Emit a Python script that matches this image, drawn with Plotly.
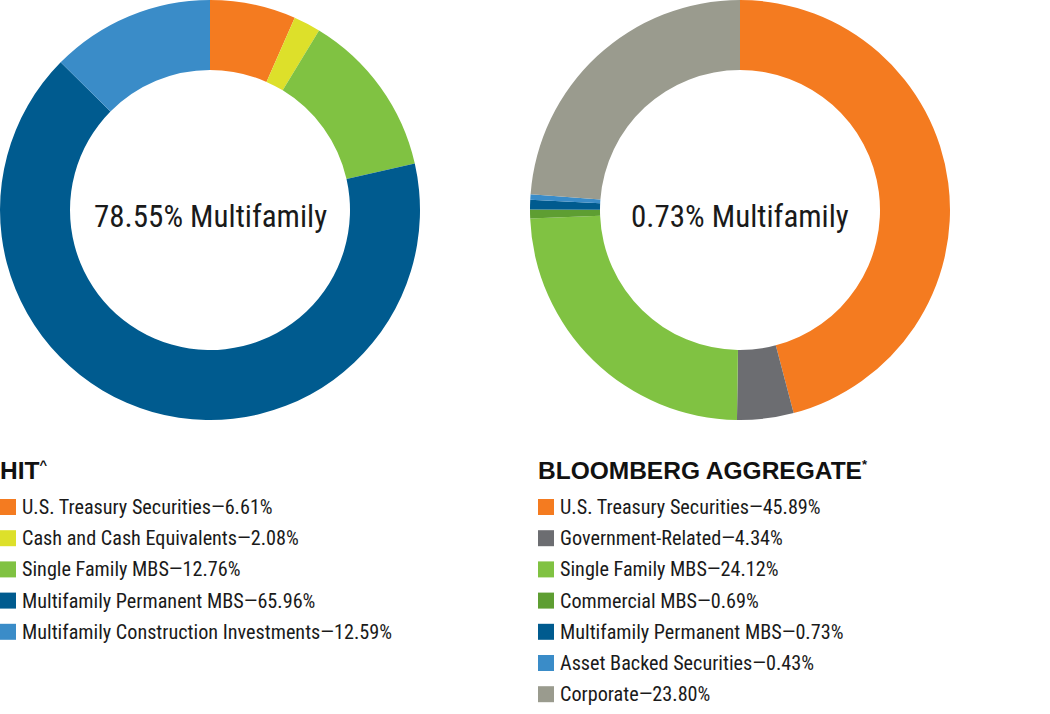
import plotly.graph_objects as go

W, H = 1050, 714

hit_labels = ["U.S. Treasury Securities", "Cash and Cash Equivalents", "Single Family MBS",
              "Multifamily Permanent MBS", "Multifamily Construction Investments"]
hit_values = [6.61, 2.08, 12.76, 65.96, 12.59]
hit_colors = ["#F47B20", "#DDE02A", "#80C242", "#005B8F", "#3A8CC8"]
hit_center = "78.55% Multifamily"
hit_title = "HIT"
hit_mark = "^"

agg_labels = ["U.S. Treasury Securities", "Government-Related", "Single Family MBS",
              "Commercial MBS", "Multifamily Permanent MBS", "Asset Backed Securities", "Corporate"]
agg_values = [45.89, 4.34, 24.12, 0.69, 0.73, 0.43, 23.80]
agg_colors = ["#F47B20", "#6C6D71", "#80C242", "#5E9E32", "#005B8F", "#3A8CC8", "#9A9B8E"]
agg_center = "0.73% Multifamily"
agg_title = "BLOOMBERG AGGREGATE"
agg_mark = "*"

FONT = "Roboto Condensed, Liberation Sans Narrow, Roboto, sans-serif"
TITLE_FONT = "Liberation Sans, Arial, sans-serif"

def px_x(x):
    return x / W

def px_y(y):
    return 1 - y / H

fig = go.Figure()

def add_donut(labels, values, colors, cx, cy, r):
    fig.add_trace(go.Pie(
        labels=labels, values=values, sort=False, direction="clockwise", rotation=0,
        hole=140 / 210, textinfo="none", hoverinfo="label+percent",
        marker=dict(colors=colors, line=dict(width=0)),
        domain=dict(x=[px_x(cx - r), px_x(cx + r)], y=[px_y(cy + r), px_y(cy - r)]),
        showlegend=False,
    ))

add_donut(hit_labels, hit_values, hit_colors, 210, 210, 210)
add_donut(agg_labels, agg_values, agg_colors, 740, 210, 210)

annotations = []
shapes = []

for txt, cx in ((hit_center, 210), (agg_center, 740)):
    annotations.append(dict(x=px_x(cx), y=px_y(216), xref="paper", yref="paper", text=txt,
                            showarrow=False, font=dict(family=FONT, size=31, color="#1a1a1a"),
                            xanchor="center", yanchor="middle"))

def add_legend(title, mark, labels, values, colors, x0, title_y, first_y, step):
    annotations.append(dict(x=px_x(x0 - 2), y=px_y(title_y), xref="paper", yref="paper",
                            text="<b>" + title + "<sup><span style='font-size:13px'>" + mark + "</span></sup></b>",
                            showarrow=False,
                            font=dict(family=TITLE_FONT, size=24.5, color="#111111"),
                            xanchor="left", yanchor="middle"))
    for i, (lab, val, col) in enumerate(zip(labels, values, colors)):
        yc = first_y + i * step
        shapes.append(dict(type="rect", xref="paper", yref="paper",
                           x0=px_x(x0), x1=px_x(x0 + 16), y0=px_y(yc + 8), y1=px_y(yc - 8),
                           fillcolor=col, line=dict(width=0)))
        annotations.append(dict(x=px_x(x0 + 19.5), y=px_y(yc), xref="paper", yref="paper",
                                text=f"{lab}\u2014{val:.2f}%", showarrow=False,
                                font=dict(family=FONT, size=20.2, color="#1a1a1a"),
                                xanchor="left", yanchor="middle"))

add_legend(hit_title, hit_mark, hit_labels, hit_values, hit_colors, 0, 470, 507, 31.2)
add_legend(agg_title, agg_mark, agg_labels, agg_values, agg_colors, 538, 470, 507, 31.2)

fig.update_layout(width=W, height=H, margin=dict(l=0, r=0, t=0, b=0),
                  paper_bgcolor="white", plot_bgcolor="white",
                  annotations=annotations, shapes=shapes)

fig.write_html("out.html", config={"displayModeBar": False},
               post_script="document.body.style.margin='0';")
